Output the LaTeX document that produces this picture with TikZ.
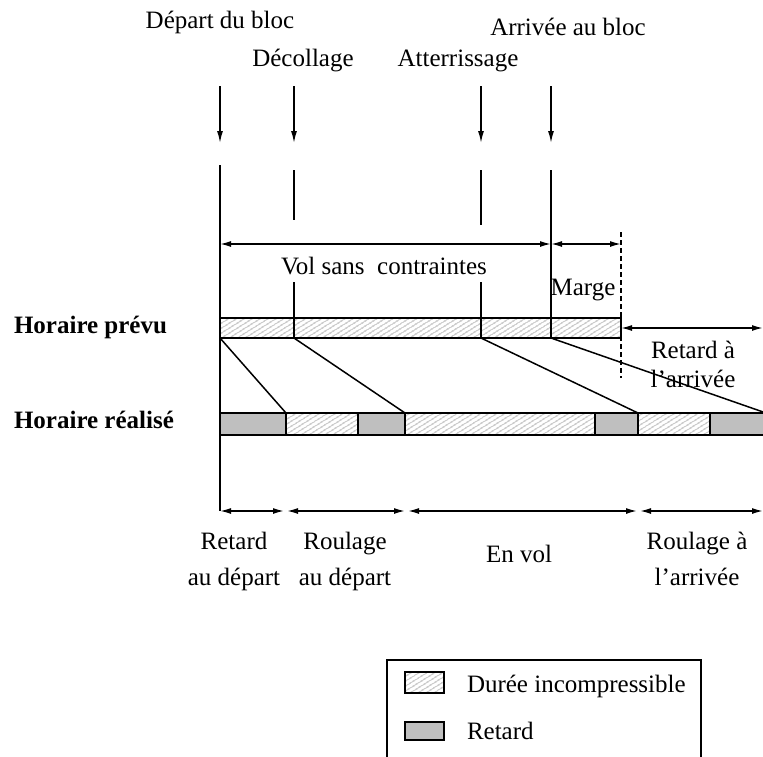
\documentclass[tikz,border=0pt]{standalone}
\usepackage{fontspec}
\setmainfont{Liberation Serif}
\usetikzlibrary{arrows.meta,patterns.meta}

\begin{document}
\begin{tikzpicture}[x=1pt,y=-1pt,
  every node/.style={font=\fontsize{25}{36}\selectfont, inner sep=0pt, outer sep=0pt},
  lbl/.style={anchor=base, align=center},
  ln/.style={line width=1.5pt},
  seg/.style={draw, line width=1.2pt, anchor=north west, minimum height=#1},
  hatch/.style={seg=#1, pattern={Lines[angle=32,distance=4pt,line width=0.8pt]}, pattern color=black!55},
  delay/.style={seg=#1, fill=black!25},
  dim/.style={ln, {Latex[length=11pt,width=6pt]}-{Latex[length=11pt,width=6pt]}},
  down/.style={ln, -{Latex[length=12pt,width=6pt]}},
]
\useasboundingbox (0,0) rectangle (763,756);
\clip (0,0) rectangle (763,756);

% event labels
\node[lbl] (ldep) at (220,28) {Départ du bloc};
\node[lbl] (ldec) at (303,66) {Décollage};
\node[lbl] (latt) at (458,66) {Atterrissage};
\node[lbl] (larr) at (568,35) {Arrivée au bloc};

% event arrows
\coordinate (adep) at (220,86);  \coordinate (bdep) at (220,143);
\coordinate (adec) at (294,86);  \coordinate (bdec) at (294,143);
\coordinate (aatt) at (481,86);  \coordinate (batt) at (481,143);
\coordinate (aarr) at (551,86);  \coordinate (barr) at (551,143);
\draw[down] (adep) -- (bdep);
\draw[down] (adec) -- (bdec);
\draw[down] (aatt) -- (batt);
\draw[down] (aarr) -- (barr);

% planned schedule bar
\node[hatch=20pt, minimum width=74pt]  (p1) at (220,318) {};
\node[hatch=20pt, minimum width=187pt] (p2) at (294,318) {};
\node[hatch=20pt, minimum width=70pt]  (p3) at (481,318) {};
\node[hatch=20pt, minimum width=70pt]  (p4) at (551,318) {};

% actual schedule bar
\node[delay=22pt, minimum width=66pt]  (r1) at (220,413) {};
\node[hatch=22pt, minimum width=72pt]  (r2) at (286,413) {};
\node[delay=22pt, minimum width=47pt]  (r3) at (358,413) {};
\node[hatch=22pt, minimum width=190pt] (r4) at (405,413) {};
\node[delay=22pt, minimum width=43pt]  (r5) at (595,413) {};
\node[hatch=22pt, minimum width=72pt]  (r6) at (638,413) {};
\node[delay=22pt, minimum width=56pt]  (r7) at (710,413) {};

% vertical guide lines
\coordinate (vdep) at (220,165);
\coordinate (corner) at (220,511);
\draw[ln] (vdep) -- (corner);
\coordinate (vdec1) at (294,170); \coordinate (vdec2) at (294,220); \coordinate (vdec3) at (294,282);
\draw[ln] (vdec1) -- (vdec2);
\draw[ln] (vdec3) -- (p2.north west);
\coordinate (vatt1) at (481,170); \coordinate (vatt2) at (481,225); \coordinate (vatt3) at (481,282);
\draw[ln] (vatt1) -- (vatt2);
\draw[ln] (vatt3) -- (p3.north west);
\coordinate (varr) at (551,170);
\draw[ln] (varr) -- (p4.north west);
\coordinate (mtop) at (621,232); \coordinate (mbot) at (621,378);
\draw[ln, dashed, dash pattern=on 5pt off 3pt] (mtop) -- (mbot);

% planned durations
\coordinate (d0) at (220,244); \coordinate (d1) at (551,244); \coordinate (d2) at (621,244);
\draw[dim] (d0) -- (d1);
\draw[dim] (d1) -- (d2);
\node[lbl] (vsc) at (384,274) {Vol sans\ \ contraintes};
\node[lbl] (marge) at (583,295) {Marge};

% arrival delay
\coordinate (ra0) at (621,328); \coordinate (ra1) at (763,328);
\draw[dim] (ra0) -- (ra1);
\node[lbl, font=\fontsize{25}{29}\selectfont] (rarr) at (693,387) {Retard à\\l’arrivée};

% propagation lines
\draw[ln] (p1.south west) -- (r1.north east);
\draw[ln] (p2.south west) -- (r3.north east);
\draw[ln] (p3.south west) -- (r5.north east);
\draw[ln] (p4.south west) -- (r7.north east);

% row labels
\node[anchor=base west, font=\fontsize{25}{36}\selectfont\bfseries] (hp) at (14,333) {Horaire prévu};
\node[anchor=base west, font=\fontsize{25}{36}\selectfont\bfseries] (hr) at (14,428) {Horaire réalisé};

% realised durations
\coordinate (e1) at (284,511); \coordinate (e2) at (287,511);
\coordinate (e3) at (405,511); \coordinate (e4) at (408,511);
\coordinate (e5) at (637,511); \coordinate (e6) at (640,511);
\coordinate (e7) at (763,511);
\draw[dim] (corner) -- (e1);
\draw[dim] (e2) -- (e3);
\draw[dim] (e4) -- (e5);
\draw[dim] (e6) -- (e7);
\node[lbl] (rdep) at (234,585) {Retard\\au départ};
\node[lbl] (roul1) at (345,585) {Roulage\\au départ};
\node[lbl] (envol) at (519,562) {En vol};
\node[lbl] (roul2) at (697,585) {Roulage à\\l’arrivée};

% legend
\node[draw, line width=1.2pt, anchor=north west, minimum width=314pt, minimum height=130pt] (leg) at (387,660) {};
\node[hatch=21pt, minimum width=39pt] (kh) at (405,672) {};
\node[delay=18pt, minimum width=39pt] (kg) at (405,722) {};
\node[anchor=base west] (th) at (467,692) {Durée incompressible};
\node[anchor=base west] (tg) at (467,739) {Retard};
\end{tikzpicture}
\end{document}
